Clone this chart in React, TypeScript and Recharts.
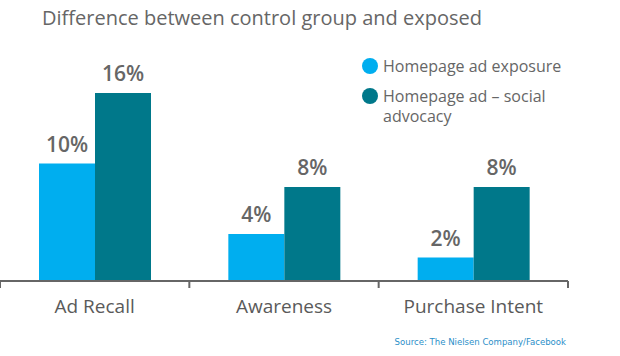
import { BarChart, Bar, XAxis, YAxis, LabelList } from 'recharts'

const categories = ['Ad Recall', 'Awareness', 'Purchase Intent']
const exposureValues = [10, 4, 2]
const advocacyValues = [16, 8, 8]
const seriesNames = ['Homepage ad exposure', 'Homepage ad \u2013 social advocacy']

const COLORS = ['#00aeef', '#00788a']
const TEXT = '#666666'
const FONT = '"Open Sans", sans-serif'

const data = categories.map((name, i) => ({
  name,
  exposure: exposureValues[i],
  advocacy: advocacyValues[i],
}))

// ticks sit on the category boundaries, not the centres
function CategoryTick(props: any) {
  const { x, y, payload, index, visibleTicksCount } = props
  const half = payload.offset || 94.7
  const last = index === visibleTicksCount - 1
  return (
    <g>
      <line x1={x - half} y1={y - 8} x2={x - half} y2={y - 1} stroke={TEXT} strokeWidth={2} />
      {last && <line x1={x + half} y1={y - 8} x2={x + half} y2={y - 1} stroke={TEXT} strokeWidth={2} />}
      <text x={x} y={y + 24} textAnchor="middle" fill="#5a5a5a" fontSize={19} fontFamily={FONT}>
        {payload.value}
      </text>
    </g>
  )
}

function LegendBox() {
  return (
    <div
      style={{
        position: 'absolute',
        left: 362,
        top: 56,
        fontFamily: FONT,
        color: TEXT,
        fontSize: 16,
        lineHeight: '20px',
      }}
    >
      {seriesNames.map((s, i) => (
        <div key={s} style={{ display: 'flex', alignItems: 'flex-start', marginBottom: 10 }}>
          <span
            style={{
              width: 16,
              height: 16,
              borderRadius: 8,
              background: COLORS[i],
              marginTop: 2,
              marginRight: 5,
              flex: 'none',
            }}
          />
          <span style={{ width: 180 }}>{s}</span>
        </div>
      ))}
    </div>
  )
}

export default function App() {
  return (
    <div style={{ position: 'absolute', left: 0, top: 0, width: 620, height: 356, background: '#fff' }}>
      <div
        style={{
          position: 'absolute',
          left: 42,
          top: 4,
          fontFamily: FONT,
          fontSize: 20,
          color: TEXT,
          whiteSpace: 'nowrap',
        }}
      >
        Difference between control group and exposed
      </div>
      <BarChart
        width={620}
        height={356}
        data={data}
        margin={{ top: 93, right: 52, left: 0, bottom: 35 }}
        barCategoryGap={39}
        barGap={0}
      >
        <XAxis
          dataKey="name"
          height={40}
          tickLine={false}
          axisLine={{ stroke: TEXT, strokeWidth: 2 }}
          tick={<CategoryTick />}
          interval={0}
        />
        <YAxis hide domain={[0, 16]} />
        <Bar dataKey="exposure" fill={COLORS[0]} isAnimationActive={false}>
          <LabelList
            dataKey="exposure"
            position="top"
            offset={12}
            formatter={(v: any) => `${v}%`}
            fill={TEXT}
            fontSize={21}
            fontWeight={600}
            fontFamily={FONT}
          />
        </Bar>
        <Bar dataKey="advocacy" fill={COLORS[1]} isAnimationActive={false}>
          <LabelList
            dataKey="advocacy"
            position="top"
            offset={12}
            formatter={(v: any) => `${v}%`}
            fill={TEXT}
            fontSize={21}
            fontWeight={600}
            fontFamily={FONT}
          />
        </Bar>
      </BarChart>
      <LegendBox />
      <div
        style={{
          position: 'absolute',
          right: 54,
          top: 336,
          fontFamily: '"Liberation Sans Narrow", "DejaVu Sans Condensed", sans-serif',
          fontSize: 9.5,
          color: '#2b8fc9',
          whiteSpace: 'nowrap',
        }}
      >
        Source: The Nielsen Company/Facebook
      </div>
    </div>
  )
}
